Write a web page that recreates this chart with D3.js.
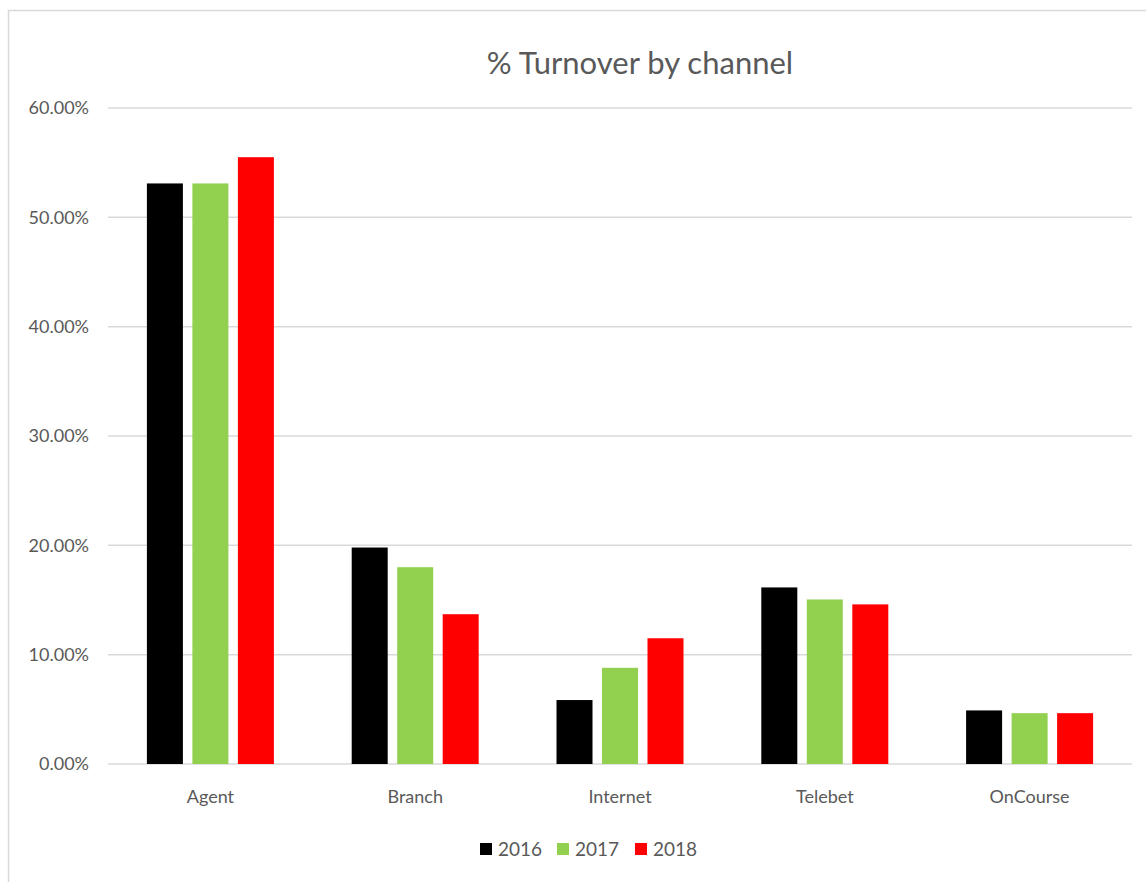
<!DOCTYPE html>
<html>
<head>
<meta charset="utf-8">
<script src="https://cdn.jsdelivr.net/npm/d3@7"></script>
<style>
 body { margin:0; background:#fff; }
 text { font-family: Lato, "Open Sans", sans-serif; fill:#595959; }
</style>
</head>
<body>
<svg width="1146" height="882"></svg>
<script>
// Data.

var channels = ['Agent', 'Branch', 'Internet', 'Telebet', 'OnCourse'];
var years = ['2016', '2017', '2018'];
var v2016 = [53.1, 19.8, 5.85, 16.15, 4.9];
var v2017 = [53.1, 18.0, 8.8, 15.05, 4.65];
var v2018 = [55.5, 13.7, 11.5, 14.6, 4.65];
var yTicks = [0, 10, 20, 30, 40, 50, 60];
var colors = ['#000000', '#92d050', '#ff0000'];

var seriesVals = [v2016, v2017, v2018];

var svg = d3.select('svg');

// Chart border (bottom and right run off the picture).
svg.append('rect')
 .attr('x', 8.5).attr('y', 10.5)
 .attr('width', 1150).attr('height', 900)
 .attr('fill', 'none')
 .attr('stroke', '#d9d9d9')
 .attr('stroke-width', 1.5);

var x = d3.scaleBand().domain(channels).range([108, 1132]);
var y = d3.scaleLinear().domain([0, 60]).range([764, 108]);
var z = d3.scaleOrdinal().domain(years).range(colors);

// Gridlines.
svg.append('g')
 .selectAll('line')
 .data(yTicks)
 .enter().append('line')
 .attr('x1', 108).attr('x2', 1132)
 .attr('y1', function(d) { return y(d); })
 .attr('y2', function(d) { return y(d); })
 .attr('stroke', '#d9d9d9')
 .attr('stroke-width', 1.5);

// Y axis labels.
svg.append('g')
 .selectAll('text')
 .data(yTicks)
 .enter().append('text')
 .attr('x', 89)
 .attr('y', function(d) { return y(d); })
 .attr('dy', '0.35em')
 .attr('text-anchor', 'end')
 .style('font-size', '18px')
 .text(function(d) { return d3.format('.2f')(d) + '%'; });

// Bars.
var barW = 36, step = 45.5;
var groups = svg.append('g')
 .selectAll('g')
 .data(years)
 .enter().append('g')
 .attr('fill', function(d) { return z(d); });

groups.selectAll('rect')
 .data(function(d, i) { return seriesVals[i].map(function(v, j) { return {c: channels[j], v: v, s: i}; }); })
 .enter().append('rect')
 .attr('x', function(d) { return x(d.c) + x.bandwidth() / 2 + (d.s - 1) * step - barW / 2; })
 .attr('y', function(d) { return y(d.v); })
 .attr('width', barW)
 .attr('height', function(d) { return y(0) - y(d.v); });

// Category labels.
svg.append('g')
 .selectAll('text')
 .data(channels)
 .enter().append('text')
 .attr('x', function(d) { return x(d) + x.bandwidth() / 2; })
 .attr('y', 803)
 .attr('text-anchor', 'middle')
 .style('font-size', '18px')
 .text(function(d) { return d; });

// Title.
svg.append('text')
 .attr('x', 640)
 .attr('y', 74)
 .attr('text-anchor', 'middle')
 .style('font-size', '31px')
 .text('% Turnover by channel');

// Legend.
var legendX = [480, 557, 635];
var legend = svg.append('g')
 .selectAll('g')
 .data(years)
 .enter().append('g')
 .attr('transform', function(d, i) { return 'translate(' + legendX[i] + ',843)'; });

legend.append('rect')
 .attr('width', 12).attr('height', 12)
 .attr('fill', z);

legend.append('text')
 .attr('x', 18)
 .attr('y', 6)
 .attr('dy', '0.36em')
 .style('font-size', '19px')
 .text(function(d) { return d; });
</script>
</body>
</html>
